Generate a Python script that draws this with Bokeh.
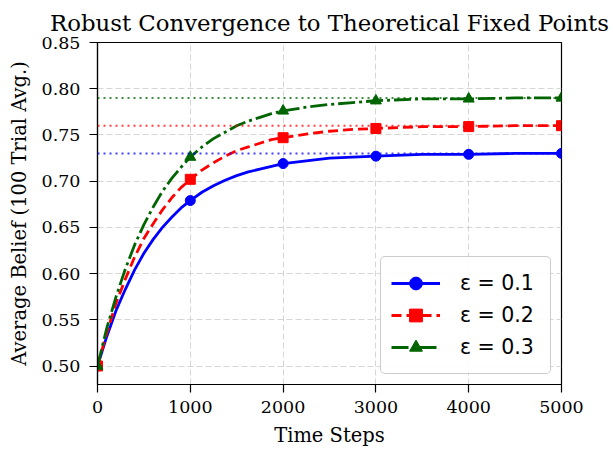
from bokeh.plotting import figure
from bokeh.models import Range1d, FixedTicker, Legend, LegendItem, Span
from bokeh.embed import file_html
from bokeh.resources import INLINE

# ---- data ----
steps = [0, 100, 200, 300, 400, 500, 600, 700, 800, 900, 1000,
         1125, 1250, 1375, 1500, 1625, 1750, 1875, 2000, 2250, 2500, 2750,
         3000, 3500, 4000, 4500, 5000]
belief_01 = [0.500, 0.532, 0.560, 0.583, 0.604, 0.622, 0.637, 0.650, 0.661, 0.671, 0.679,
             0.688, 0.695, 0.701, 0.706, 0.710, 0.713, 0.716, 0.719, 0.722, 0.725, 0.726,
             0.727, 0.729, 0.729, 0.730, 0.730]
belief_02 = [0.500, 0.536, 0.568, 0.594, 0.618, 0.638, 0.654, 0.669, 0.682, 0.693, 0.702,
             0.712, 0.720, 0.727, 0.733, 0.737, 0.741, 0.745, 0.747, 0.751, 0.754, 0.756,
             0.757, 0.759, 0.759, 0.760, 0.760]
belief_03 = [0.500, 0.541, 0.575, 0.605, 0.631, 0.653, 0.672, 0.689, 0.703, 0.715, 0.726,
             0.737, 0.746, 0.753, 0.760, 0.765, 0.769, 0.773, 0.776, 0.780, 0.783, 0.785,
             0.787, 0.789, 0.789, 0.790, 0.790]
marker_steps = [0, 1000, 2000, 3000, 4000, 5000]
fixed_points = [0.73, 0.76, 0.79]
labels = ["ε = 0.1", "ε = 0.2", "ε = 0.3"]
x_ticks = [0, 1000, 2000, 3000, 4000, 5000]
y_ticks = [0.50, 0.55, 0.60, 0.65, 0.70, 0.75, 0.80, 0.85]

colors = ["#0000ff", "#ff0000", "#006400"]
dashes = ["solid", "10 5", "17 4 3 4"]
markers = ["circle", "square", "triangle"]
msizes = [10, 10, 11]

p = figure(width=613, height=451, output_backend="svg", toolbar_location=None,
           x_range=Range1d(0, 5000), y_range=Range1d(0.48, 0.85),
           min_border_left=97, min_border_right=52, min_border_top=42, min_border_bottom=67)

p.title.text = "Robust Convergence to Theoretical Fixed Points"
p.title.text_font = "DejaVu Serif"
p.title.text_font_size = "22.8px"
p.title.text_font_style = "normal"
p.title.text_color = "black"
p.title.align = "center"
p.title.offset = -6
p.title.text_line_height = 0.7
p.title.standoff = 14

p.outline_line_color = "black"
p.outline_line_width = 1.2
p.outline_line_alpha = 1

for ax in (p.xaxis[0], p.yaxis[0]):
    ax.axis_label_text_font = "DejaVu Serif"
    ax.axis_label_text_font_size = "19.5px"
    ax.axis_label_text_font_style = "normal"
    ax.axis_label_text_color = "black"
    ax.major_label_text_font = "DejaVu Serif"
    ax.major_label_text_font_size = "17.5px"
    ax.major_label_text_color = "black"
    ax.axis_line_color = "black"
    ax.axis_line_width = 1.2
    ax.major_tick_line_color = "black"
    ax.major_tick_line_width = 1.2
    ax.major_tick_out = 8
    ax.major_tick_in = 0
    ax.minor_tick_line_color = None

p.xaxis.major_label_standoff = 8
p.yaxis.major_label_standoff = 9
p.xaxis.axis_label = "Time Steps"
p.yaxis.axis_label = "Average Belief (100 Trial Avg.)"
p.xaxis.ticker = FixedTicker(ticks=x_ticks)
p.yaxis.ticker = FixedTicker(ticks=y_ticks)
p.xaxis.major_label_overrides = {v: str(v) for v in x_ticks}
p.yaxis.major_label_overrides = {v: f"{v:.2f}" for v in y_ticks}
p.xaxis.axis_label_standoff = 8
p.yaxis.axis_label_standoff = 8

for g in (p.xgrid[0], p.ygrid[0]):
    g.grid_line_color = "#cccccc"
    g.grid_line_dash = "6 3"
    g.grid_line_width = 1
    g.grid_line_alpha = 0.8

series = [belief_01, belief_02, belief_03]
items = []
for fp, c in zip(fixed_points, colors):
    p.add_layout(Span(location=fp, dimension="width", line_color=c, line_dash="2 4",
                      line_width=2, line_alpha=0.75))
for vals, c, d, m, ms, lab in zip(series, colors, dashes, markers, msizes, labels):
    lr = p.line(steps, vals, line_color=c, line_width=2.8, line_dash=d)
    mx = [s for s in steps if s in marker_steps]
    my = [v for s, v in zip(steps, vals) if s in marker_steps]
    mr = p.scatter(mx, my, marker=m, size=ms, fill_color=c, line_color=c)
    items.append(LegendItem(label=lab, renderers=[lr, mr]))

legend = Legend(items=items, location="bottom_right")
legend.label_text_font = "DejaVu Sans"
legend.label_text_font_size = "20.5px"
legend.label_text_color = "black"
legend.glyph_width = 49
legend.glyph_height = 32
legend.label_height = 32
legend.label_width = 80
legend.label_standoff = 20
legend.spacing = 0
legend.padding = 10
legend.margin = 10
legend.border_line_color = "#999999"
legend.border_line_width = 1.5
legend.background_fill_color = "white"
legend.background_fill_alpha = 0.9
legend.border_radius = 5
p.add_layout(legend, "center")

open("out.html", "w").write(file_html(p, INLINE))
